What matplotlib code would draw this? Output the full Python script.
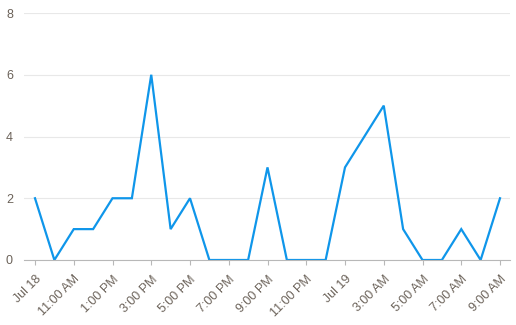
import matplotlib
matplotlib.use("Agg")
import matplotlib.pyplot as plt
from matplotlib.transforms import ScaledTranslation

# hourly counts, Jul 18 9:00 AM -> Jul 19 9:00 AM
hours = list(range(25))
counts = [2, 0, 1, 1, 2, 2, 6, 1, 2, 0, 0, 0, 3, 0, 0, 0, 3, 4, 5, 1, 0, 0, 1, 0, 2]
tick_hours = list(range(0, 25, 2))
tick_labels = ['Jul 18', '11:00 AM', '1:00 PM', '3:00 PM', '5:00 PM', '7:00 PM',
               '9:00 PM', '11:00 PM', 'Jul 19', '3:00 AM', '5:00 AM', '7:00 AM', '9:00 AM']
y_ticks = [0, 2, 4, 6, 8]

plt.rcParams['font.family'] = ['Liberation Sans', 'DejaVu Sans']
txt = '#6b6259'

fig = plt.figure(figsize=(5.16, 3.25), dpi=100)
ax = fig.add_axes([24/516, 0.2, 486/516, 0.76])
ax.plot(hours, counts, color='#0f96ea', lw=1.6, solid_joinstyle='miter')

ax.set_ylim(0, 8)
ax.set_xlim(-11/19.375, 24 + 10/19.375)
ax.set_yticks(y_ticks)
ax.set_xticks(tick_hours)
ax.set_xticklabels(tick_labels, rotation=45, ha='right', va='top',
                   rotation_mode='anchor', fontsize=9, color=txt)
shift = ScaledTranslation(3/100, 0, fig.dpi_scale_trans)
for lab in ax.get_xticklabels():
    lab.set_transform(lab.get_transform() + shift)
ax.tick_params(axis='x', length=3.6, color='#b8b8b8', pad=6)
ax.tick_params(axis='y', length=0, labelsize=9, labelcolor=txt, pad=8)
ax.grid(axis='y', color='#e8e8e8', lw=0.8)
ax.set_axisbelow(True)
for s in ['top', 'right', 'left']:
    ax.spines[s].set_visible(False)
ax.spines['bottom'].set_color('#b8b8b8')
ax.spines['bottom'].set_zorder(3)

fig.savefig('out.png', dpi=100)
